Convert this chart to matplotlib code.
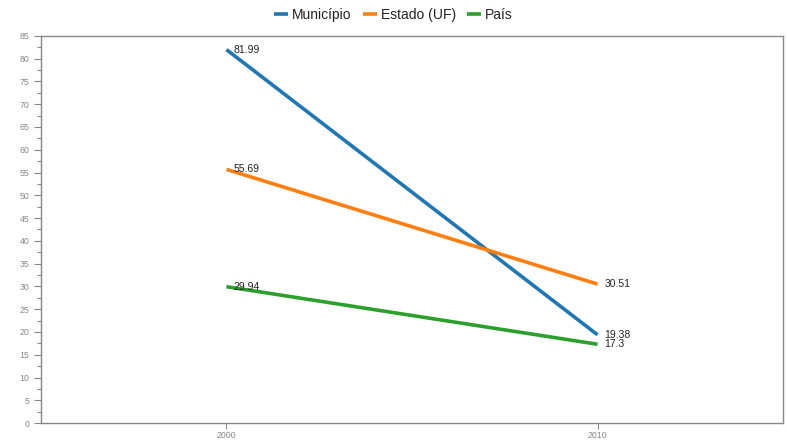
import matplotlib
matplotlib.use('Agg')
import matplotlib.pyplot as plt
from matplotlib.ticker import MultipleLocator

plt.rcParams['font.family'] = ['Liberation Sans', 'DejaVu Sans']

anos = ['2000', '2010']
municipio = [81.99, 19.38]
estado = [55.69, 30.51]
pais = [29.94, 17.3]
series = [('Município', municipio, '#1f77b4'),
          ('Estado (UF)', estado, '#ff7f0e'),
          ('País', pais, '#2ca02c')]

fig = plt.figure(figsize=(7.87, 4.43), dpi=100)
ax = fig.add_axes([0.052, 0.045, 0.943, 0.874])

x = list(range(len(anos)))
for nome, vals, cor in series:
    ax.plot(x, vals, color=cor, lw=2.6, label=nome, solid_capstyle='butt')
    for xi, v in zip(x, vals):
        ax.annotate(str(v), (xi, v), xytext=(5, 0), textcoords='offset points',
                    va='center', ha='left', fontsize=7.5, color='#222222')

ax.set_xlim(-0.5, 1.5)
ax.set_ylim(0, 85)
ax.set_xticks(x)
ax.set_xticklabels(anos)
ax.yaxis.set_major_locator(MultipleLocator(5))
ax.yaxis.set_minor_locator(MultipleLocator(2.5))
ax.tick_params(axis='both', which='major', labelsize=6.3, colors='#888888',
               labelcolor='#888888', length=5, width=0.8, direction='out')
ax.tick_params(axis='x', which='major', length=4, pad=1.5)
ax.tick_params(axis='y', which='minor', length=3, width=0.8, colors='#888888')
for s in ax.spines.values():
    s.set_color('#888888')
    s.set_linewidth(1)

leg = fig.legend(loc='upper center', bbox_to_anchor=(0.5, 1.01), ncol=3, frameon=False,
                 fontsize=10, handlelength=1.0, handletextpad=0.3, columnspacing=0.8)
for t in leg.get_texts():
    t.set_color('#222222')

fig.savefig('out.png', dpi=100)
